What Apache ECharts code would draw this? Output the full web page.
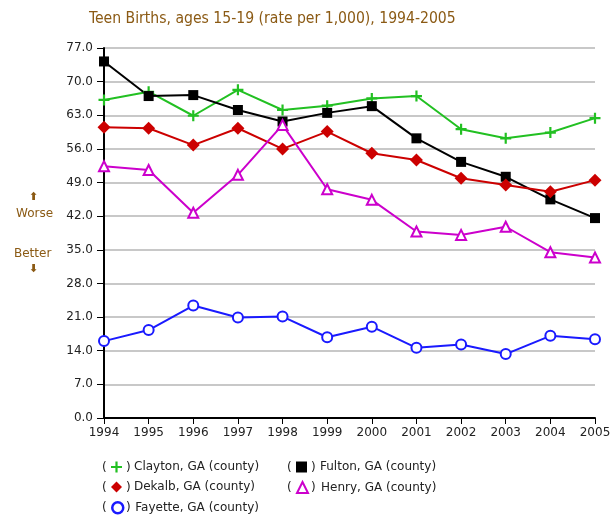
<!DOCTYPE html>
<html>
<head>
<meta charset="utf-8">
<script src="https://cdn.jsdelivr.net/npm/echarts@6/dist/echarts.min.js"></script>
<style>
  html, body { margin: 0; padding: 0; background: #fff; }
  #chart { width: 616px; height: 517px; }
</style>
</head>
<body>
<div id="chart"></div>
<script>
const years = ['1994', '1995', '1996', '1997', '1998', '1999', '2000', '2001', '2002', '2003', '2004', '2005']
const clayton = [66.2, 67.9, 62.9, 68.3, 64.1, 65.0, 66.5, 67.0, 60.1, 58.2, 59.4, 62.4]
const fulton = [74.2, 67.0, 67.2, 64.1, 61.7, 63.5, 64.9, 58.2, 53.3, 50.2, 45.5, 41.6]
const dekalb = [60.5, 60.3, 56.8, 60.3, 56.0, 59.6, 55.1, 53.7, 49.9, 48.5, 47.1, 49.5]
const henry = [52.4, 51.6, 42.7, 50.6, 61.0, 47.6, 45.4, 38.8, 38.1, 39.8, 34.5, 33.4]
const fayette = [16.0, 18.3, 23.4, 20.9, 21.1, 16.8, 19.0, 14.6, 15.3, 13.3, 17.1, 16.4]

const brown = '#8b5a14'
const plus = 'path://M4,0H6V4H10V6H6V10H4V6H0V4H4Z'
const font = 'DejaVu Sans'

const chart = echarts.init(document.getElementById('chart'))

const line = (name, data, color, symbol, size, hollow) => ({
  name,
  type: 'line',
  data,
  symbol,
  symbolSize: size,
  showAllSymbol: true,
  animation: false,
  lineStyle: { color, width: 2 },
  itemStyle: hollow
    ? { color: '#fff', borderColor: color, borderWidth: 2 }
    : { color, borderWidth: 0 },
  emphasis: { disabled: true },
})

// one legend per entry so the two columns line up like the original
const legendItem = (item, left, top, gap) => ({
  orient: 'horizontal',
  left,
  top,
  padding: 0,
  itemWidth: 11,
  itemHeight: 11,
  selectedMode: false,
  textStyle: { fontFamily: font, fontSize: 12, color: '#222', padding: [0, 0, 0, gap] },
  data: [item],
})

const paren = (x, y, s) => ({ type: 'text', left: x, top: y, style: { text: s, fill: '#222', font: '12px DejaVu Sans' } })

chart.setOption({
  backgroundColor: '#fff',
  title: {
    text: 'Teen Births, ages 15-19 (rate per 1,000), 1994-2005',
    left: 84,
    top: 6,
    textStyle: { color: brown, fontFamily: 'DejaVu Sans Condensed', fontSize: 15.6, fontWeight: 'normal' },
  },
  grid: { left: 104, right: 21, top: 48, bottom: 99 },
  xAxis: {
    type: 'category',
    data: years,
    boundaryGap: false,
    axisLine: { lineStyle: { color: '#000', width: 2 } },
    axisTick: { lineStyle: { color: '#000' }, length: 6 },
    axisLabel: { color: '#222', fontFamily: font, fontSize: 12, margin: 9 },
  },
  yAxis: {
    type: 'value',
    min: 0,
    max: 77,
    interval: 7,
    axisLine: { show: true, lineStyle: { color: '#000', width: 2 } },
    axisTick: { show: true, lineStyle: { color: '#000' }, length: 7 },
    axisLabel: {
      color: '#222', fontFamily: font, fontSize: 12, margin: 11,
      formatter: (v) => v.toFixed(1),
    },
    splitLine: { lineStyle: { color: '#c8c8c8', width: 2 } },
  },
  legend: [
    legendItem({ name: 'Clayton, GA (county)', icon: plus, itemStyle: { color: '#22c022' } }, 111, 461, 7),
    legendItem({ name: 'Dekalb, GA (county)', icon: 'diamond', itemStyle: { color: '#cc0000' } }, 111, 481, 7),
    legendItem({ name: 'Fayette, GA (county)', icon: 'circle', itemStyle: { color: '#fff', borderColor: '#1a1aff', borderWidth: 2.5 } }, 111, 501, 7),
    legendItem({ name: 'Fulton, GA (county)', icon: 'rect', itemStyle: { color: '#000' } }, 296, 461, 8),
    legendItem({ name: 'Henry, GA (county)', icon: 'triangle', itemStyle: { color: '#fff', borderColor: '#cc00cc', borderWidth: 2 } }, 296, 481, 8),
  ],
  graphic: [
    { type: 'text', left: 29, top: 192, style: { text: '⬆', fill: brown, font: 'bold 11px DejaVu Sans' } },
    { type: 'text', left: 16, top: 208, style: { text: 'Worse', fill: brown, font: '12px DejaVu Sans' } },
    { type: 'text', left: 14, top: 248, style: { text: 'Better', fill: brown, font: '12px DejaVu Sans' } },
    { type: 'text', left: 29, top: 264, style: { text: '⬇', fill: brown, font: 'bold 11px DejaVu Sans' } },
    paren(102, 462, '('), paren(126, 462, ')'),
    paren(102, 482, '('), paren(126, 482, ')'),
    paren(102, 502, '('), paren(126, 502, ')'),
    paren(287, 462, '('), paren(311, 462, ')'),
    paren(287, 482, '('), paren(311, 482, ')'),
  ],
  series: [
    line('Clayton, GA (county)', clayton, '#22c022', plus, 11, false),
    line('Fulton, GA (county)', fulton, '#000000', 'rect', 10, false),
    line('Dekalb, GA (county)', dekalb, '#cc0000', 'diamond', 13, false),
    line('Henry, GA (county)', henry, '#cc00cc', 'triangle', 10, true),
    line('Fayette, GA (county)', fayette, '#1a1aff', 'circle', 10, true),
  ],
})
</script>
</body>
</html>
